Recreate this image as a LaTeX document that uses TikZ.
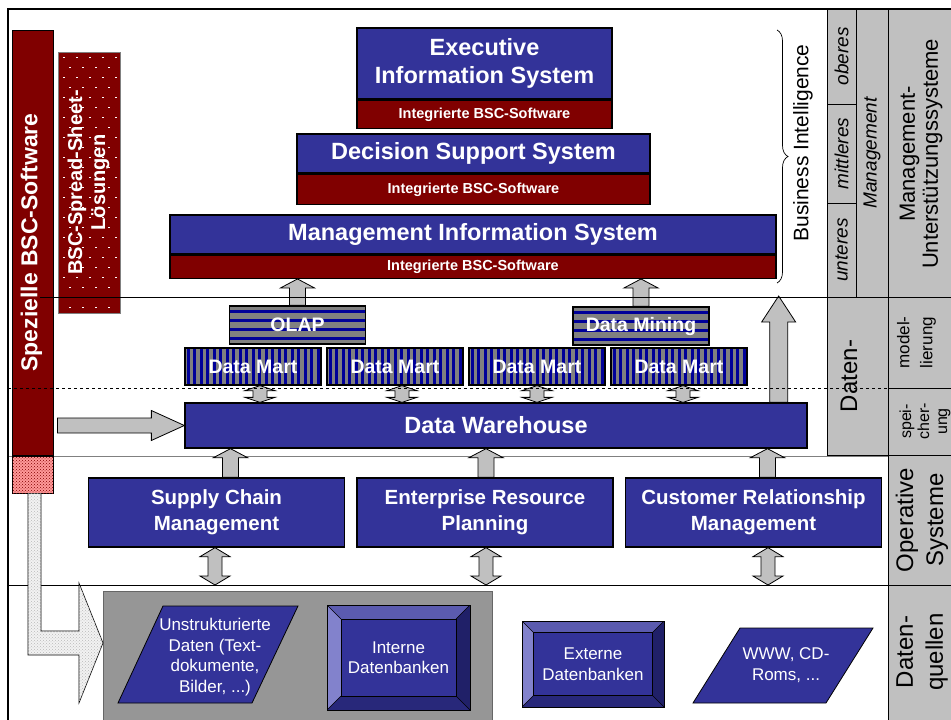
\documentclass[tikz,border=0pt]{standalone}
\usepackage{fontspec}
\setmainfont{Liberation Sans}
\usepackage{graphicx}
\usetikzlibrary{positioning,patterns,decorations.pathreplacing,calc}
\definecolor{bscblue}{HTML}{333399}
\definecolor{bscred}{HTML}{800000}
\definecolor{arrgray}{HTML}{C0C0C0}
\definecolor{colgray}{HTML}{C0C0C0}
\definecolor{srcgray}{HTML}{969696}
\definecolor{stripegray}{HTML}{808080}
\definecolor{stripenavy}{HTML}{000099}
\definecolor{bevtop}{HTML}{5B5BAF}
\definecolor{bevleft}{HTML}{8282CC}
\definecolor{bevright}{HTML}{202068}
\definecolor{bevbot}{HTML}{28287A}
\def\fs#1#2{\fontsize{#1}{#2}\selectfont}
\def\vtext#1{\rotatebox{90}{\begin{tabular}{@{}c@{}}#1\end{tabular}}}
\def\UpArr#1#2#3#4{\draw [blockarr] let \p1=(#1), \p2=(#2) in
  (\x1-#3,\y1) -- (\x1-#3,\y2-#4) -- (\x1-17pt,\y2-#4) -- (\x1,\y2)
  -- (\x1+17pt,\y2-#4) -- (\x1+#3,\y2-#4) -- (\x1+#3,\y1) -- cycle;}
\def\DblArr#1#2#3{\draw [blockarr] let \p1=(#1), \p2=(#2) in
  (\x1,\y1) -- (\x1+15pt,\y1-#3) -- (\x1+7pt,\y1-#3) -- (\x1+7pt,\y2+#3)
  -- (\x1+15pt,\y2+#3) -- (\x1,\y2) -- (\x1-15pt,\y2+#3) -- (\x1-7pt,\y2+#3)
  -- (\x1-7pt,\y1-#3) -- (\x1-15pt,\y1-#3) -- cycle;}
\def\RArr#1#2{\draw [blockarr] let \p1=(#1), \p2=(#2) in
  (\x1,\y2+7.5pt) -- (\x2-33pt,\y2+7.5pt) -- (\x2-33pt,\y2+15pt) -- (\x2,\y2)
  -- (\x2-33pt,\y2-15pt) -- (\x2-33pt,\y2-7.5pt) -- (\x1,\y2-7.5pt) -- cycle;}
\tikzset{
  blockarr/.style={fill=arrgray, draw=black, line width=0.8pt},
  sysbox/.style={draw=black, line width=1.3pt, fill=bscblue, text=white, inner sep=0pt,
    align=center, font=\bfseries\fs{23.5}{28}},
  bscpart/.style={draw=black, line width=1.3pt, fill=bscred, text=white, inner sep=0pt,
    font=\bfseries\fs{14.5}{16}},
  opbox/.style={sysbox, minimum width=256pt, minimum height=69pt, font=\bfseries\fs{20.5}{26}},
  vstripes/.style={fill=stripegray, path picture={
    \foreach \k in {0,...,21} \fill [stripenavy]
      ([xshift=\k*6.5pt+1.5pt]path picture bounding box.south west) rectangle ++(3.2pt,60pt);}},
  hstripes/.style={fill=stripegray, path picture={
    \foreach \k in {0,...,4} \fill [stripenavy]
      ([yshift=-\k*9.2pt-3.5pt]path picture bounding box.north west) rectangle ++(200pt,-3pt);}},
  martbox/.style={draw=black, line width=1.3pt, vstripes, text=white, inner sep=0pt,
    minimum width=136pt, minimum height=37pt, font=\bfseries\fs{19.5}{20}},
  anabox/.style={martbox, hstripes, minimum height=38pt},
  bar/.style={draw=black, line width=1pt, fill=bscred, text=white, inner sep=0pt,
    font=\bfseries\fs{23}{25}},
  dotsred/.style={path picture={
    \foreach \i in {0,...,4} \foreach \j in {0,...,25} \fill [white]
      ([xshift={5pt+\i*13pt+mod(\j,2)*6pt}, yshift={-6pt-\j*10pt}]path picture bounding box.north west)
      rectangle ++(1.5pt,1.5pt);}},
  dotarr/.style={draw=black, line width=0.6pt, fill=gray!10,
    postaction={pattern=crosshatch dots, pattern color=gray!55}},
  cell/.style={draw=black, line width=0.8pt, fill=colgray},
  celltxt/.style={rotate=90, align=center, inner sep=0pt, font=\fs{19}{23}},
  srcshape/.style={draw=black, line width=0.8pt, fill=bscblue},
  srctxt/.style={text=white, align=center, inner sep=0pt, font=\fs{17}{20.5}},
  bevel/.style={draw=black, line width=0.8pt, fill=bscblue, inner sep=0pt, text=white,
    align=center, font=\fs{17}{20.5}, path picture={
    \fill [bevtop] (path picture bounding box.north west) -- (path picture bounding box.north east)
      -- ([xshift=-#1,yshift=-#1]path picture bounding box.north east)
      -- ([xshift=#1,yshift=-#1]path picture bounding box.north west) -- cycle;
    \fill [bevleft] (path picture bounding box.north west) -- (path picture bounding box.south west)
      -- ([xshift=#1,yshift=#1]path picture bounding box.south west)
      -- ([xshift=#1,yshift=-#1]path picture bounding box.north west) -- cycle;
    \fill [bevright] (path picture bounding box.north east) -- (path picture bounding box.south east)
      -- ([xshift=-#1,yshift=#1]path picture bounding box.south east)
      -- ([xshift=-#1,yshift=-#1]path picture bounding box.north east) -- cycle;
    \fill [bevbot] (path picture bounding box.south west) -- (path picture bounding box.south east)
      -- ([xshift=-#1,yshift=#1]path picture bounding box.south east)
      -- ([xshift=#1,yshift=#1]path picture bounding box.south west) -- cycle;
    \draw [line width=0.6pt] ([xshift=#1,yshift=-#1]path picture bounding box.north west)
      rectangle ([xshift=-#1,yshift=#1]path picture bounding box.south east);
    \draw [line width=0.6pt] (path picture bounding box.north west) -- ++(#1,-#1)
      (path picture bounding box.north east) -- ++(-#1,-#1)
      (path picture bounding box.south west) -- ++(#1,#1)
      (path picture bounding box.south east) -- ++(-#1,#1);}}
}
\begin{document}
\begin{tikzpicture}[x=1pt, y=-1pt]
  \useasboundingbox (0,0) rectangle (951,720);
  % rows
  \draw [line width=1pt, gray] (8,456) -- (888,456);
  \draw [line width=0.8pt] (8,585) -- (888,585);
  % right column
  \draw [cell] (827,9) rectangle (856,104);
  \draw [cell] (827,104) rectangle (856,203);
  \draw [cell] (827,203) rectangle (856,297);
  \draw [cell] (856,9) rectangle (888,297);
  \draw [cell] (888,9) rectangle (960,297);
  \draw [cell] (827,297) rectangle (888,455);
  \draw [cell] (888,297) rectangle (960,388);
  \draw [cell] (888,388) rectangle (960,455);
  \draw [cell] (888,455) rectangle (960,585);
  \draw [cell] (888,585) rectangle (960,725);
  \node [celltxt, font=\itshape\fs{19}{23}] (l-ob) at (841.5,56.5) {oberes};
  \node [celltxt, font=\itshape\fs{19}{23}] (l-mi) at (841.5,153.5) {mittleres};
  \node [celltxt, font=\itshape\fs{19}{23}] (l-un) at (841.5,250) {unteres};
  \node [celltxt, font=\itshape\fs{19}{23}] (l-mg) at (872,153) {Management};
  \node [celltxt, font=\fs{22}{23}] (l-mus) at (921,154) {Management-\\Unterstützungssysteme};
  \node [celltxt, font=\fs{24}{28}] (l-dat) at (849,376) {Daten-};
  \node [celltxt, font=\fs{17}{23}] (l-mod) at (916.5,342.5) {model-\\lierung};
  \node [celltxt, font=\fs{16}{18}] (l-spe) at (925,421.5) {spei-\\cher-\\ung};
  \node [celltxt, font=\fs{24}{30}] (l-op) at (922,520) {Operative\\Systeme};
  \node [celltxt, font=\fs{24}{30}] (l-dq) at (922,652) {Daten-\\quellen};
  % management systems
  \node [sysbox, minimum width=255pt, minimum height=71pt] (eis) at (484.5,63.5) {Executive\\Information System};
  \node [bscpart, minimum width=255pt, minimum height=28pt, below=0pt of eis] (eisbsc) {Integrierte BSC-Software};
  \node [sysbox, minimum width=353pt, minimum height=39pt] (dss) at (473.5,153.5) {Decision Support System};
  \node [bscpart, minimum width=353pt, minimum height=30pt, below=0pt of dss] (dssbsc) {Integrierte BSC-Software};
  \node [sysbox, minimum width=606pt, minimum height=39pt] (mis) at (473,234.5) {Management Information System};
  \node [bscpart, minimum width=606pt, minimum height=23pt, below=0pt of mis] (misbsc) {Integrierte BSC-Software};
  \draw [decorate, decoration={brace, amplitude=11pt}, line width=0.7pt] (777,30) -- (777,283);
  \node [rotate=90, inner sep=0pt, font=\fs{21}{24}] (bi) at (803,143) {Business Intelligence};
  % data layer
  \node [anabox] (olap) at (297.5,325) {OLAP};
  \node [anabox] (dmin) at (641,326) {Data Mining};
  \foreach \k in {1,...,4}
    \node [martbox] (dm\k) at ({111+142*\k},366.5) {Data Mart};
  \node [sysbox, minimum width=622pt, minimum height=45pt] (dw) at (496,425.5) {Data Warehouse};
  % operative systems
  \node [opbox] (scm) at (216.5,512.5) {Supply Chain\\Management};
  \node [opbox] (erp) at (485,512.5) {Enterprise Resource\\Planning};
  \node [opbox] (crm) at (753.5,512.5) {Customer Relationship\\Management};
  % data sources
  \draw [draw=black!60, line width=1pt, fill=srcgray] (103,591) rectangle (492,726);
  \draw [srcshape] (163,606) -- (298,606) -- (252,703) -- (118,703) -- cycle;
  \node [srctxt] (unstr) at (215,657) {Unstrukturierte\\Daten (Text-\\dokumente,\\Bilder, ...)};
  \node [bevel=14pt, minimum width=143pt, minimum height=105pt] (idb) at (398.5,657.5) {Interne\\Datenbanken};
  \node [bevel=11.5pt, minimum width=142pt, minimum height=86pt] (edb) at (593,664) {Externe\\Datenbanken};
  \draw [srcshape] (740,628) -- (873,628) -- (826,703) -- (693,703) -- cycle;
  \node [srctxt] (www) at (786,665) {WWW, CD-\\Roms, ...};
  % arrows
  \coordinate (srcline) at (0,585);
  \coordinate (bitip) at (778,296);
  \UpArr{olap.north}{misbsc.south}{8pt}{9pt}
  \UpArr{dmin.north}{misbsc.south}{8pt}{9pt}
  \UpArr{[xshift=-29pt]dw.north east}{bitip}{9pt}{26pt}
  \foreach \k/\dx in {1/7,2/7,3/0,4/4}
    {\DblArr{[xshift=\dx pt]dm\k.south}{dw.north}{5pt}}
  \foreach \sys/\dx in {scm/14,erp/1,crm/14}
    {\UpArr{[xshift=\dx pt]\sys.north}{dw.south}{8pt}{9pt}}
  \foreach \sys/\dx in {scm/-1.5,erp/1,crm/14.5}
    {\DblArr{[xshift=\dx pt]\sys.south}{srcline}{9pt}}
  % BSC bars
  \node [bar, minimum width=41pt, minimum height=425pt] (spez) at (32.5,242.5) {\vtext{Spezielle BSC-Software}};
  \node [bar, draw=gray, dotsred, minimum width=62pt, minimum height=261pt, font=\bfseries\fs{20}{23}] (spread) at (89,182.5) {\vtext{BSC-Spread-Sheet-\\Lösungen}};
  \node [draw=black, line width=0.6pt, minimum width=41pt, minimum height=37pt, inner sep=0pt, fill=red!40!white,
    postaction={pattern=crosshatch dots, pattern color=bscred}] (pink) at (32.5,474.5) {};
  \coordinate (srctip) at (103,643);
  \draw [dotarr] let \p1=(pink.south), \p2=(srctip) in
    (\x1-4.5pt,\y1) -- (\x1+8.5pt,\y1) -- (\x1+8.5pt,\y2+12pt) -- (\x2-24pt,\y2+12pt)
    -- (\x2-24pt,\y2+60pt) -- (\x2,\y2) -- (\x2-24pt,\y2-60pt) -- (\x2-24pt,\y2-12pt)
    -- (\x1-4.5pt,\y2-12pt) -- cycle;
  \RArr{[xshift=4pt]spez.east}{dw.west}
  % dashed border, upper row line and frame
  \draw [line width=0.8pt] (40,297) -- (827,297);
  \draw [dashed, line width=0.7pt] (8,388) -- (888,388);
  \draw [line width=2.5pt] (8,722) -- (8,9) -- (953,9);
\end{tikzpicture}
\end{document}
